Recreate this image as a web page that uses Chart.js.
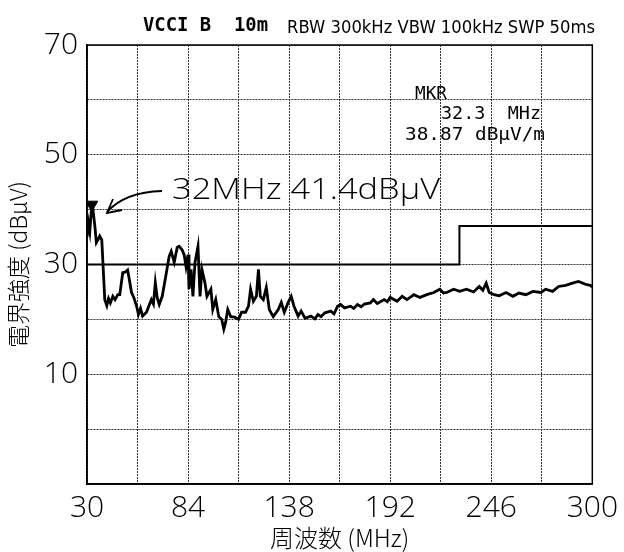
<!DOCTYPE html>
<html>
<head>
<meta charset="utf-8">
<script src="https://cdn.jsdelivr.net/npm/chart.js@4/dist/chart.umd.min.js"></script>
<style>
  html, body { margin: 0; padding: 0; background: #fff; }
  #wrap { width: 624px; height: 552px; }
</style>
</head>
<body>
<div id="wrap"><canvas id="emiChart" width="624" height="552"></canvas></div>
<script>
// measured trace (MHz, dBuV)
const freqMHz = [
  30, 30.8, 31.5, 32.3, 33.2, 34.2, 35, 35.8, 36.8, 37.9, 38.7, 39.5, 40.6, 41.5, 42.5, 43.8,
  45, 46.5, 47.5, 48.5, 49.1, 50.4, 51.7, 52.5, 53.8, 55, 56.5, 57.5, 58.6, 59.7, 61.8, 63,
  64.4, 65.5, 66.5, 67.5, 68.6, 70.2, 72.4, 73.9, 75, 76.6, 78.2, 79.2, 80.8, 81.9, 82.9, 84,
  84.5, 85.6, 86.6, 87.7, 89.3, 90.4, 91.4, 93, 94.1, 96.2, 97.2, 98.8, 100.4, 102, 103.1, 104.1,
  105.2, 106.8, 108.9, 111, 112.6, 114.7, 116.3, 117.4, 118.9, 120.5, 121.6, 122.6, 124.2, 125.8, 127.4, 129.5,
  132.2, 133.8, 135.4, 137.5, 139.1, 140.6, 142.8, 144.4, 146.5, 149.6, 151.8, 153.4, 155, 157.1, 160.2, 162,
  163.9, 165.5, 167.6, 170.8, 172.5, 174.5, 176.5, 178.2, 181.4, 183, 185.1, 188.8, 190.5, 192, 195.7, 198.4,
  201, 204.7, 207.9, 211.6, 215.3, 218.5, 220.5, 222.2, 225.9, 229.1, 232.8, 236.5, 239.6, 241.5, 243.3, 244.9,
  247.6, 250.2, 253.9, 257.6, 260.8, 264.5, 268.2, 272.5, 275.1, 278.8, 282, 285.7, 289.4, 292.6, 296.3, 298.9, 300
];
const levelDb = [
  35, 37.5, 36, 39.8, 40, 37, 34, 34.5, 35.2, 34.5, 29, 23.6, 22.5, 23.8, 23, 24.2,
  23.6, 24.5, 24.5, 27, 28.5, 28.6, 29, 27.5, 24.9, 24, 22.4, 20.9, 22, 20.6, 21.3, 22.4,
  23.6, 22.8, 26.7, 24, 22.7, 24.2, 28.5, 31.5, 32.4, 30.4, 33.1, 33.3, 32.7, 31.8, 29.6, 31.8,
  25.5, 29.1, 24.2, 30.4, 33.3, 24.2, 29.1, 26.7, 24.2, 25.5, 21.8, 23.6, 20.5, 20, 18.2, 19.5,
  21.8, 20.5, 20.4, 20, 21.3, 21.3, 22.4, 25.5, 23.3, 24.2, 29.1, 24.2, 23.6, 25.8, 21.8, 20.5,
  21.8, 23.1, 21.3, 23.1, 24.2, 22.4, 20.6, 21.5, 20.2, 20.6, 20.1, 20.9, 20.5, 21.2, 21.5, 21,
  22.4, 22.7, 22.1, 22.4, 22, 22.7, 22.3, 22.8, 23, 23.6, 22.9, 23.6, 23.2, 24, 23.3, 24.2,
  23.6, 24.5, 24, 24.5, 24.9, 25.5, 24.8, 24.9, 25.5, 25.1, 25.5, 25, 26, 25.3, 26.6, 24.9,
  24.5, 24.3, 24.9, 24.2, 24.8, 24.5, 25.1, 24.9, 25.5, 25.1, 26, 26.2, 26.6, 26.9, 26.4, 26.2, 25.9
];

// VCCI class B 10m limit
const limitFreq = [30, 229, 229, 300];
const limitDb = [30, 30, 37, 37];

// marker
const markerFreq = [32.5];
const markerDb = [40.9];

const xTickLabels = [30, 84, 138, 192, 246, 300];
const yTickLabels = [10, 30, 50, 70];

const toPoints = (xs, ys) => xs.map((x, i) => ({ x: x, y: ys[i] }));

// fit a text string into a given width by squeezing it horizontally
function fitText(ctx, text, x, y, width, font) {
  ctx.save();
  ctx.font = font;
  const w = ctx.measureText(text).width;
  ctx.translate(x, y);
  ctx.scale(width / w, 1);
  ctx.fillText(text, 0, 0);
  ctx.restore();
}

const notesPlugin = {
  id: 'notes',
  afterDraw(chart) {
    const ctx = chart.ctx;
    const a = chart.chartArea;
    ctx.save();
    // frame
    ctx.strokeStyle = '#000';
    ctx.lineWidth = 1.5;
    ctx.strokeRect(a.left, a.top, a.right - a.left, a.bottom - a.top);

    ctx.fillStyle = '#000';
    ctx.textBaseline = 'alphabetic';
    fitText(ctx, 'VCCI B  10m', 143, 31, 125, 'bold 19px "DejaVu Sans Mono"');
    fitText(ctx, 'RBW 300kHz VBW 100kHz SWP 50ms', 287, 33, 308, '17px "DejaVu Sans"');

    fitText(ctx, 'MKR', 415, 99, 32, '18px "DejaVu Sans Mono"');
    fitText(ctx, '32.3  MHz', 441, 119, 100, '18px "DejaVu Sans Mono"');
    fitText(ctx, '38.87 dBμV/m', 405, 140, 140, '18px "DejaVu Sans Mono"');

    fitText(ctx, '32MHz 41.4dBμV', 172, 199, 268, '300 30px "Open Sans"');

    // arrow
    ctx.strokeStyle = '#000';
    ctx.lineWidth = 1.8;
    ctx.beginPath();
    ctx.moveTo(162, 191);
    ctx.quadraticCurveTo(125, 192, 107, 212);
    ctx.stroke();
    ctx.beginPath();
    ctx.moveTo(113, 199);
    ctx.lineTo(107, 213);
    ctx.lineTo(122, 210);
    ctx.stroke();
    ctx.restore();
  }
};

new Chart(document.getElementById('emiChart'), {
  type: 'line',
  data: {
    datasets: [
      {
        label: 'trace',
        data: toPoints(freqMHz, levelDb),
        borderColor: '#000',
        borderWidth: 2.8,
        pointRadius: 0,
        tension: 0
      },
      {
        label: 'limit',
        data: toPoints(limitFreq, limitDb),
        borderColor: '#000',
        borderWidth: 2,
        pointRadius: 0,
        tension: 0
      },
      {
        label: 'marker',
        data: toPoints(markerFreq, markerDb),
        showLine: false,
        pointStyle: 'triangle',
        rotation: 180,
        pointRadius: 7,
        backgroundColor: '#000',
        borderColor: '#000'
      }
    ]
  },
  options: {
    responsive: false,
    animation: false,
    layout: { padding: { top: 45, right: 27, left: 0, bottom: 0 } },
    plugins: {
      legend: { display: false },
      tooltip: { enabled: false }
    },
    scales: {
      x: {
        type: 'linear',
        min: 30,
        max: 300,
        afterFit: s => { s.height = 68; },
        ticks: {
          stepSize: 27,
          autoSkip: false,
          maxRotation: 0,
          padding: 6,
          color: '#000',
          font: { family: 'Open Sans', size: 30, weight: 300 },
          callback: v => xTickLabels.includes(v) ? String(v) : ''
        },
        grid: { color: '#333', lineWidth: 1, drawTicks: false },
        border: { color: '#000', width: 1.5, dash: [2, 1] },
        title: {
          display: true,
          text: '周波数 (MHz)',
          color: '#000',
          padding: { top: 0, bottom: 0 },
          font: { family: 'Noto Sans CJK JP', size: 24, weight: 300 }
        }
      },
      y: {
        min: -10,
        max: 70,
        afterFit: s => { s.width = 87; },
        ticks: {
          stepSize: 10,
          padding: 9,
          color: '#000',
          font: { family: 'Open Sans', size: 30, weight: 300 },
          callback: v => yTickLabels.includes(v) ? String(v) : ''
        },
        grid: { color: '#333', lineWidth: 1, drawTicks: false },
        border: { color: '#000', width: 1.5, dash: [2, 1] },
        title: {
          display: true,
          text: '電界強度 (dBμV)',
          color: '#000',
          padding: { top: 4, bottom: 0 },
          font: { family: 'Noto Sans CJK JP', size: 23, weight: 300 }
        }
      }
    }
  },
  plugins: [notesPlugin]
});
</script>
</body>
</html>
